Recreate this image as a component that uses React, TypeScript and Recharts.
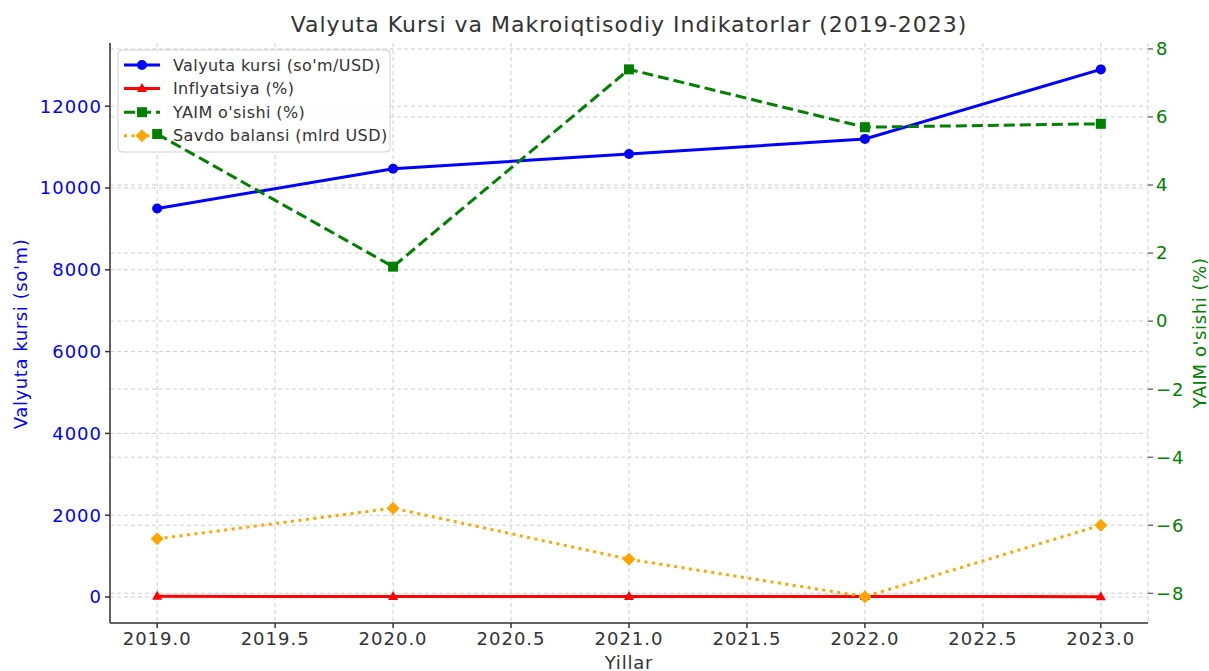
import React from "react"
import { ComposedChart, Line, XAxis, YAxis, CartesianGrid } from "recharts"

const years = [2019, 2020, 2021, 2022, 2023]
const valyutaKursi = [9500, 10470, 10830, 11200, 12900]
const inflyatsiya = [15.2, 11.1, 10.0, 12.3, 8.8]
const yaimOsishi = [5.5, 1.6, 7.4, 5.7, 5.8]
const savdoBalansi = [-6.4, -5.5, -7.0, -8.1, -6.0]

const xTicks = [2019, 2019.5, 2020, 2020.5, 2021, 2021.5, 2022, 2022.5, 2023]
const leftTicks = [0, 2000, 4000, 6000, 8000, 10000, 12000]
const rightTicks = [-8, -6, -4, -2, 0, 2, 4, 6, 8]

const data = years.map((y, i) => ({
  year: y,
  kurs: valyutaKursi[i],
  infl: inflyatsiya[i],
  yaim: yaimOsishi[i],
  savdo: savdoBalansi[i],
}))

const FONT = "'DejaVu Sans', Verdana, sans-serif"
const TXT = "#333333"
const GRID = "#cfcfcf"

function Circle(props: any) {
  const { cx, cy, fill } = props
  if (cx == null || cy == null) return null
  return <circle cx={cx} cy={cy} r={5} fill={fill} />
}
function Tri(props: any) {
  const { cx, cy, fill } = props
  if (cx == null || cy == null) return null
  return <polygon points={`${cx},${cy - 5.5} ${cx - 5},${cy + 3.5} ${cx + 5},${cy + 3.5}`} fill={fill} />
}
function Sq(props: any) {
  const { cx, cy, fill } = props
  if (cx == null || cy == null) return null
  return <rect x={cx - 5} y={cy - 5} width={10} height={10} fill={fill} />
}
function Dia(props: any) {
  const { cx, cy, fill } = props
  if (cx == null || cy == null) return null
  return <polygon points={`${cx},${cy - 6.5} ${cx + 6.5},${cy} ${cx},${cy + 6.5} ${cx - 6.5},${cy}`} fill={fill} />
}

const legendItems = [
  { name: "Valyuta kursi (so'm/USD)", color: "#0000ff", dash: undefined, M: Circle },
  { name: "Inflyatsiya (%)", color: "#ff0000", dash: undefined, M: Tri },
  { name: "YAIM o'sishi (%)", color: "#008000", dash: "11 5", M: Sq },
  { name: "Savdo balansi (mlrd USD)", color: "#ffa500", dash: "3 4.5", M: Dia },
]

function LegendBox() {
  return (
    <g>
      <rect x={118} y={50} width={272} height={102} rx={4} fill="#ffffff" fillOpacity={0.85} stroke="#d0d0d0" />
      {legendItems.map((it, i) => {
        const y = 65 + i * 23.6
        const M = it.M
        return (
          <g key={it.name}>
            <line x1={124} x2={160} y1={y} y2={y} stroke={it.color} strokeWidth={3} strokeDasharray={it.dash} />
            <M cx={142} cy={y} fill={it.color} />
            <text x={173} y={y} dominantBaseline="central" fontSize={16} fill={TXT} fontFamily={FONT} letterSpacing={0.4}>
              {it.name}
            </text>
          </g>
        )
      })}
    </g>
  )
}

function Labels() {
  return (
    <g fontFamily={FONT}>
      <text x={629} y={24} textAnchor="middle" dominantBaseline="central" fontSize={22} fill={TXT} letterSpacing={1}>
        Valyuta Kursi va Makroiqtisodiy Indikatorlar (2019-2023)
      </text>
      <text x={629} y={662} textAnchor="middle" dominantBaseline="central" fontSize={18} fill={TXT} letterSpacing={0.8}>
        Yillar
      </text>
      <text x={20} y={334} textAnchor="middle" dominantBaseline="central" fontSize={18} fill="#0000ff" letterSpacing={0.6}
        transform="rotate(-90 20 334)">
        Valyuta kursi (so'm)
      </text>
      <text x={1199} y={333} textAnchor="middle" dominantBaseline="central" fontSize={18} fill="#008000" letterSpacing={0.6}
        transform="rotate(-90 1199 333)">
        YAIM o'sishi (%)
      </text>
    </g>
  )
}

const fmtRight = (v: number) => (v < 0 ? `\u2212${Math.abs(v)}` : `${v}`)

export default function App() {
  return (
    <div style={{ position: "absolute", left: 0, top: 0, width: 1209, height: 671, background: "#fff" }}>
      <ComposedChart width={1209} height={671} data={data} margin={{ top: 43, right: 0, left: 50, bottom: 0 }}>
        <CartesianGrid yAxisId="left" stroke={GRID} strokeDasharray="4 3" horizontalValues={leftTicks} />
        <LegendBox />
        <CartesianGrid yAxisId="right" stroke={GRID} strokeDasharray="4 3" vertical={false} horizontalValues={rightTicks} />
        <XAxis
          dataKey="year"
          type="number"
          domain={[2018.8, 2023.2]}
          ticks={xTicks}
          allowDataOverflow
          tickFormatter={(v: number) => v.toFixed(1)}
          height={48}
          tickSize={5}
          tickMargin={4}
          stroke={TXT}
          strokeWidth={1.5}
          tick={{ fontSize: 18, fill: TXT, fontFamily: FONT, letterSpacing: 1 }}
        />
        <YAxis
          yAxisId="left"
          width={60}
          domain={[-636, 13545]}
          ticks={leftTicks}
          allowDataOverflow
          tickSize={5}
          tickMargin={3}
          stroke={TXT}
          strokeWidth={1.5}
          tick={{ fontSize: 18, fill: "#0000ff", fontFamily: FONT, letterSpacing: 1 }}
        />
        <YAxis
          yAxisId="right"
          orientation="right"
          width={61}
          domain={[-8.875, 8.175]}
          ticks={rightTicks}
          allowDataOverflow
          axisLine={false}
          tickSize={5}
          tickMargin={3}
          stroke={TXT}
          tickFormatter={fmtRight}
          tick={{ fontSize: 18, fill: "#008000", fontFamily: FONT, letterSpacing: 1 }}
        />
        <Line yAxisId="left" dataKey="kurs" stroke="#0000ff" strokeWidth={3} dot={<Circle fill="#0000ff" />} isAnimationActive={false} />
        <Line yAxisId="left" dataKey="infl" stroke="#ff0000" strokeWidth={3} dot={<Tri fill="#ff0000" />} isAnimationActive={false} />
        <Line yAxisId="right" dataKey="savdo" stroke="#ffa500" strokeWidth={3} strokeDasharray="3 4.5" dot={<Dia fill="#ffa500" />} isAnimationActive={false} />
        <Line yAxisId="right" dataKey="yaim" stroke="#008000" strokeWidth={3} strokeDasharray="11 5" dot={<Sq fill="#008000" />} isAnimationActive={false} />
        <Labels />
      </ComposedChart>
    </div>
  )
}
